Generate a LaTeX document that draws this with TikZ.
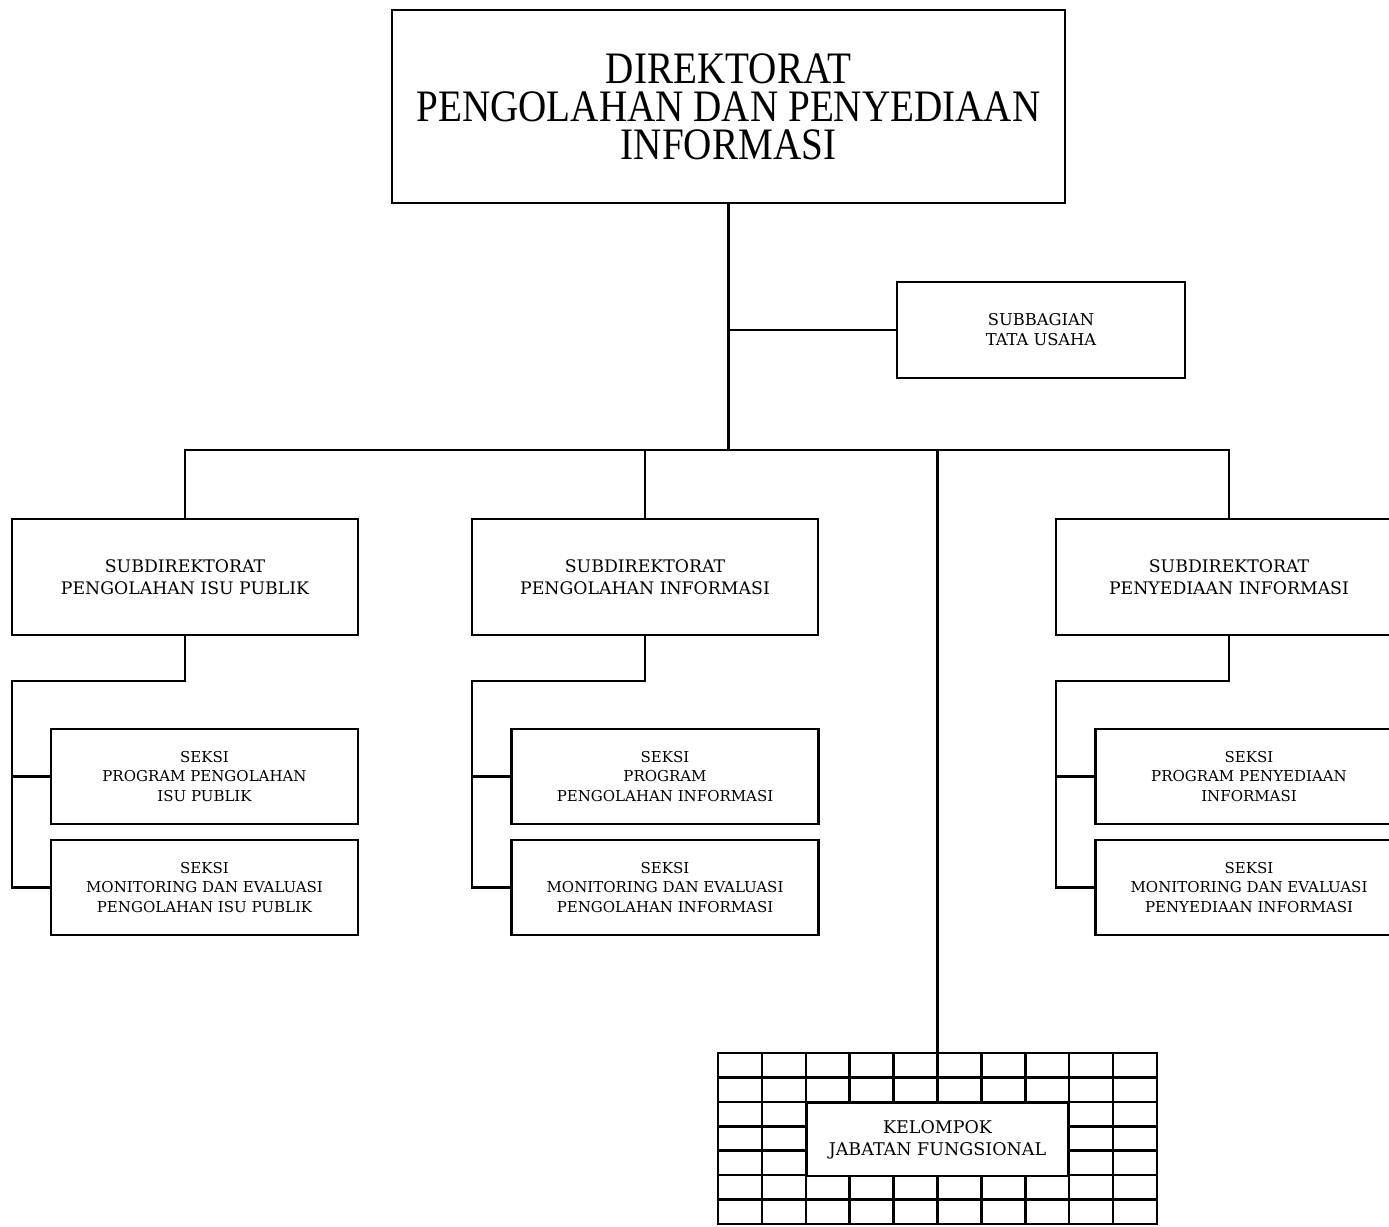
\documentclass[tikz,border=0pt]{standalone}
\usepackage{fontspec}
\setmainfont{DejaVu Serif}
\newfontfamily\judulfont[FakeStretch=0.87]{Liberation Serif}
\begin{document}
\begin{tikzpicture}[x=1pt,y=-1pt,line width=2.5pt,
    kotak/.style={draw,rectangle,align=center,inner sep=0pt},
    subdit/.style={kotak,minimum width=346,minimum height=116,font=\fontsize{17.3}{21.5}\selectfont},
    seksi/.style={kotak,minimum width=307,minimum height=95,font=\fontsize{15}{19.5}\selectfont}]
        \useasboundingbox (0,0) rectangle (1389,1226);
        % kotak direktorat dan subbagian
        \node[kotak,minimum width=673,minimum height=193,font=\judulfont\fontsize{45}{38}\selectfont] (dir) at (728.5,106.5) {DIREKTORAT\\PENGOLAHAN DAN PENYEDIAAN\\INFORMASI};
        \node[kotak,minimum width=288,minimum height=96,font=\fontsize{16.3}{20}\selectfont] (tu) at (1041,330) {SUBBAGIAN\\TATA USAHA};
        % subdirektorat
        \node[subdit] (subA) at (185,577) {SUBDIREKTORAT\\PENGOLAHAN ISU PUBLIK};
        \node[subdit] (subB) at (645,577) {SUBDIREKTORAT\\PENGOLAHAN INFORMASI};
        \node[subdit] (subC) at (1229,577) {SUBDIREKTORAT\\PENYEDIAAN INFORMASI};
        % seksi
        \node[seksi] (sA1) at (204.5,776.5) {SEKSI\\PROGRAM PENGOLAHAN\\ISU PUBLIK};
        \node[seksi] (sA2) at (204.5,887.5) {SEKSI\\MONITORING DAN EVALUASI\\PENGOLAHAN ISU PUBLIK};
        \node[seksi] (sB1) at (665,776.5) {SEKSI\\PROGRAM\\PENGOLAHAN INFORMASI};
        \node[seksi] (sB2) at (665,887.5) {SEKSI\\MONITORING DAN EVALUASI\\PENGOLAHAN INFORMASI};
        \node[seksi] (sC1) at (1249,776.5) {SEKSI\\PROGRAM PENYEDIAAN\\INFORMASI};
        \node[seksi] (sC2) at (1249,887.5) {SEKSI\\MONITORING DAN EVALUASI\\PENYEDIAAN INFORMASI};
        % kelompok jabatan fungsional
        \node[kotak,minimum width=439,minimum height=171] (kjf) at (937.5,1138.5) {};
        \foreach \i in {1,...,9}
            \draw ({718+\i*43.9},1053) -- ({718+\i*43.9},1224);
        \foreach \j in {1,...,6}
            \draw (718,{1053+\j*24.43}) -- (1157,{1053+\j*24.43});
        \node[kotak,fill=white,minimum width=262,minimum height=73,font=\fontsize{17.5}{22}\selectfont] (kjfnama) at (937.5,1139.5) {KELOMPOK\\JABATAN FUNGSIONAL};
        % garis
        \coordinate (bus) at (728.5,450);
        \draw (dir.south) -- (bus);
        \draw (tu.west) -- (tu.west -| dir.south);
        \draw (subA.north) |- (bus) -| (subC.north);
        \draw (subB.north) -- (subB.north |- bus);
        \draw (bus -| kjf.north) -- (kjf.north);
        \coordinate (kA) at (12,681);
        \coordinate (kB) at (472,681);
        \coordinate (kC) at (1056,681);
        \draw (subA.south) |- (kA) |- (sA2.west);
        \draw (sA1.west) -- (sA1.west -| kA);
        \draw (subB.south) |- (kB) |- (sB2.west);
        \draw (sB1.west) -- (sB1.west -| kB);
        \draw (subC.south) |- (kC) |- (sC2.west);
        \draw (sC1.west) -- (sC1.west -| kC);
\end{tikzpicture}
\end{document}
